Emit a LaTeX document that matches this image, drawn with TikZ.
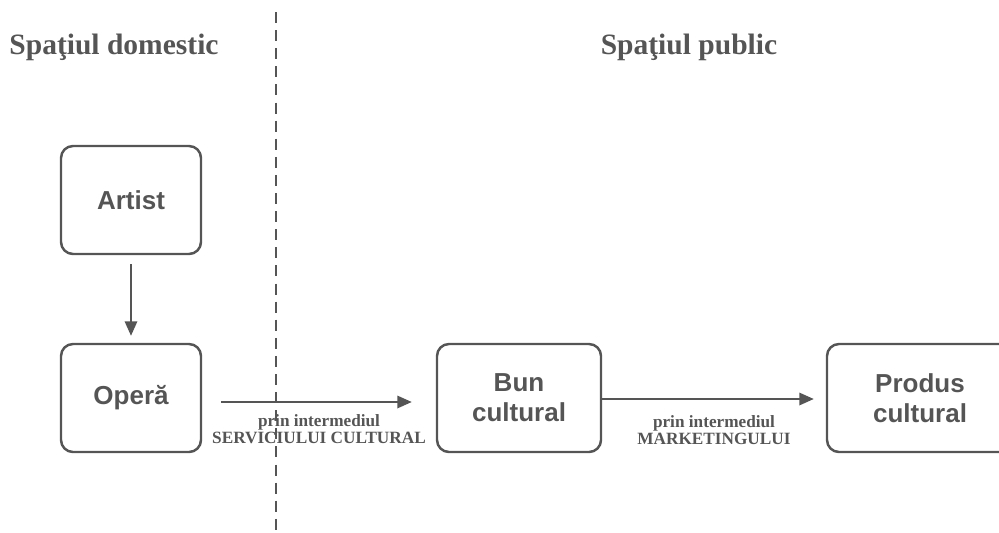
\documentclass[tikz,border=0pt]{standalone}
\usepackage{fontspec}
\setmainfont{Liberation Serif}
\setsansfont{Liberation Sans}
\usetikzlibrary{math}
\usetikzlibrary{arrows.meta}
\usetikzlibrary{positioning}

\definecolor{ink}{RGB}{85,85,85}

\tikzset{
  box/.style={draw=ink, line width=1.4pt, rounded corners=0.24cm, minimum width=2.8cm, minimum height=2.16cm, align=center, text=ink, font=\sffamily\bfseries\fontsize{14.8}{17}\selectfont},
  arr/.style={draw=ink, line width=1pt, -{Triangle[length=0.29cm,width=0.25cm]}},
  title/.style={text=ink, font=\bfseries\fontsize{16.8}{18}\selectfont},
  via/.style={text=ink, align=center, font=\bfseries\fontsize{9.8}{9.6}\selectfont},
}

\begin{document}
\begin{tikzpicture}

\useasboundingbox (0,0) rectangle (19.98,10.64);

% Titluri
\node[title, anchor=base] (domestic) at (2.28, 9.56) {Spaţiul domestic};
\node[title, anchor=base] (public) at (13.78, 9.56) {Spaţiul public};

% Casete
\tikzmath{ \x = 2.62; \y = 2.68; }

\node[box] (artist) at (\x, \y + 3.96) {Artist};
\node[box] (opera) at (\x, \y) {Operă};
\node[box, minimum width=3.28cm] (bun) at (\x + 7.76, \y) {Bun\\cultural};
\node[box, minimum width=3.72cm] (produs) at (\x + 15.78, \y) {Produs\\cultural};

% Sageti
\draw[arr, shorten <=0.18cm, shorten >=0.14cm] (artist) -- (opera);

\draw[arr, shorten <=0.38cm, shorten >=0.48cm] ([yshift=-0.08cm]opera.east) -- ([yshift=-0.08cm]bun.west)
  node[via, midway, below=0.12cm] (viaserv) {prin intermediul\\SERVICIULUI CULTURAL};

\draw[arr, shorten >=0.24cm] ([yshift=-0.02cm]bun.east) -- ([yshift=-0.02cm]produs.west)
  node[via, midway, below=0.2cm] (viamark) {prin intermediul\\MARKETINGULUI};

% Linia de separare
\coordinate (sustop) at (5.52, 10.40);
\coordinate (jos) at (5.52, 0);
\draw[ink, line width=1pt, dash pattern=on 6.3pt off 4pt] (sustop) -- (jos);

\end{tikzpicture}
\end{document}
